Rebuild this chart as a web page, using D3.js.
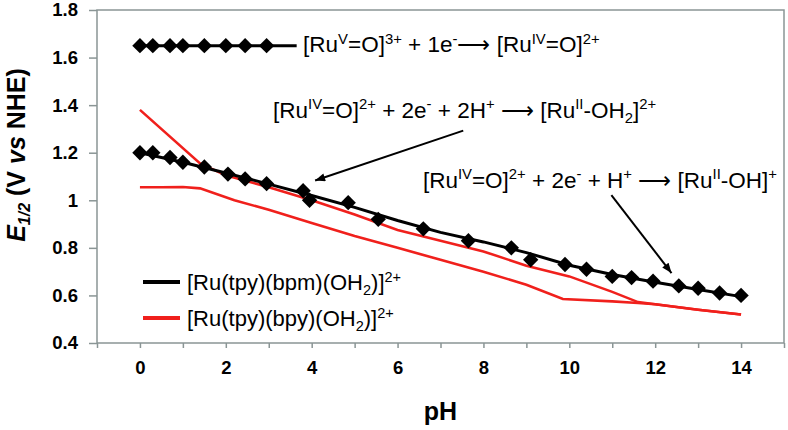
<!DOCTYPE html>
<html>
<head>
<meta charset="utf-8">
<script src="https://cdn.jsdelivr.net/npm/d3@7"></script>
<style>
    body { margin: 0; background: #fff; }
    text { font-family: "Liberation Sans", Arial, sans-serif; white-space: pre; }
</style>
</head>
<body>
<div id="chart"></div>
<script>
"use strict";

// Ru(V/IV) couple, pH independent
const highPH = [0, 0.3, 0.7, 1.0, 1.5, 2.0, 2.45, 2.95];
const highE = [1.65, 1.65, 1.65, 1.65, 1.65, 1.65, 1.65, 1.65];
const highLinePH = [0, 3.65];
const highLineE = [1.65, 1.65];

// [Ru(tpy)(bpm)(OH2)]2+ measured points
const bpmPH = [0, 0.3, 0.7, 1.0, 1.5, 2.05, 2.45, 2.95, 3.8, 3.95, 4.85, 5.55, 6.6, 7.65, 8.65, 9.1,
    9.9, 10.4, 11.0, 11.45, 11.95, 12.55, 13.0, 13.5, 14.0];
const bpmE = [1.20, 1.20, 1.18, 1.16, 1.14, 1.11, 1.09, 1.07, 1.04, 1.00, 0.99, 0.92, 0.88, 0.83, 0.80, 0.75,
    0.73, 0.71, 0.68, 0.675, 0.66, 0.64, 0.63, 0.61, 0.60];

// [Ru(tpy)(bpm)(OH2)]2+ line
const bpmLinePH = [0, 1, 2, 3, 4, 5, 6, 7, 8, 9, 10, 11, 12, 13, 14];
const bpmLineE = [1.20, 1.16, 1.115, 1.068, 1.02, 0.97, 0.915, 0.865, 0.825, 0.78, 0.727, 0.688, 0.655, 0.625, 0.595];

// [Ru(tpy)(bpy)(OH2)]2+ lines
const bpyUpPH = [0, 1.4, 2, 3, 4, 5, 6, 7, 8, 9, 10, 11, 11.6, 12, 13, 14];
const bpyUpE = [1.38, 1.155, 1.105, 1.055, 1.0, 0.94, 0.875, 0.83, 0.785, 0.725, 0.68, 0.615, 0.572, 0.563, 0.54, 0.52];
const bpyLowPH = [0, 0.5, 1.0, 1.4, 2.2, 3, 4, 5, 6, 7, 8, 9, 9.85, 11, 11.6, 12, 13, 14];
const bpyLowE = [1.055, 1.055, 1.056, 1.05, 1.0, 0.96, 0.905, 0.85, 0.80, 0.75, 0.70, 0.645, 0.585, 0.575, 0.568, 0.563, 0.54, 0.52];

const xTicks = d3.range(-1, 16);
const xTickLabels = [0, 2, 4, 6, 8, 10, 12, 14];
const yTicks = [0.4, 0.6, 0.8, 1.0, 1.2, 1.4, 1.6, 1.8];
const yTickLabels = ["0.4", "0.6", "0.8", "1", "1.2", "1.4", "1.6", "1.8"];

const red = "#f0201c";
const axisColor = "#8a9595";

const margin = {top: 10, right: 4, bottom: 87, left: 97};
const width = 788 - margin.left - margin.right;
const height = 430 - margin.top - margin.bottom;

const svg = d3.select("#chart").append("svg")
    .attr("width", 788)
    .attr("height", 430);

svg.append("defs").append("marker")
    .attr("id", "head")
    .attr("viewBox", "0 0 10 8")
    .attr("refX", 10)
    .attr("refY", 4)
    .attr("markerWidth", 11)
    .attr("markerHeight", 8)
    .attr("markerUnits", "userSpaceOnUse")
    .attr("orient", "auto")
    .append("path")
    .attr("d", "M0,0L10,4L0,8Z")
    .attr("fill", "#000");

const g = svg.append("g")
    .attr("transform", "translate(" + margin.left + "," + margin.top + ")");

const x = d3.scaleLinear().domain([-1, 15]).range([0, width]);
const y = d3.scaleLinear().domain([0.4, 1.8]).range([height, 0]);

// axes
const xAxis = g.append("g")
    .attr("transform", "translate(0," + height + ")")
    .call(d3.axisBottom(x).tickValues(xTicks).tickSize(5).tickPadding(13)
        .tickFormat((d) => xTickLabels.includes(d) ? d : ""));

const yAxis = g.append("g")
    .call(d3.axisLeft(y).tickValues(yTicks).tickSize(8).tickPadding(11)
        .tickFormat((d, i) => yTickLabels[i]));

[xAxis, yAxis].forEach((a) => {
    a.selectAll("path, line").attr("stroke", axisColor).attr("stroke-width", 1.5);
    a.selectAll("text")
        .attr("fill", "#000")
        .style("font-size", "18.5px")
        .style("font-weight", "bold");
    a.select(".domain").remove();
});

g.append("rect")
    .attr("width", width)
    .attr("height", height)
    .attr("fill", "none")
    .attr("stroke", axisColor)
    .attr("stroke-width", 1.5);

const line = d3.line()
    .x((d) => x(d[0]))
    .y((d) => y(d[1]));

const zip = (a, b) => a.map((v, i) => [v, b[i]]);

g.append("path")
    .datum(zip(bpyLowPH, bpyLowE))
    .attr("fill", "none").attr("stroke", red).attr("stroke-width", 2.6)
    .attr("d", line);

g.append("path")
    .datum(zip(bpyUpPH, bpyUpE))
    .attr("fill", "none").attr("stroke", red).attr("stroke-width", 2.6)
    .attr("d", line);

g.append("path")
    .datum(zip(bpmLinePH, bpmLineE))
    .attr("fill", "none").attr("stroke", "#000").attr("stroke-width", 3)
    .attr("d", line);

g.append("path")
    .datum(zip(highLinePH, highLineE))
    .attr("fill", "none").attr("stroke", "#000").attr("stroke-width", 3)
    .attr("d", line);

const diamond = d3.symbol(d3.symbolSquare, 118);

g.selectAll(".pt")
    .data(zip(highPH, highE).concat(zip(bpmPH, bpmE)))
    .join("path")
    .attr("class", "pt")
    .attr("d", diamond)
    .attr("transform", (d) => "translate(" + x(d[0]) + "," + y(d[1]) + ") rotate(45)")
    .attr("fill", "#000");

// text with super/subscripts
function rich(sel, parts, size) {
    let shift = 0;
    parts.forEach(([t, k]) => {
        const target = k === "sup" ? -0.38 * size : k === "sub" ? 0.22 * size : 0;
        sel.append("tspan")
            .attr("dy", target - shift)
            .style("font-size", (k ? size * 0.66 : size) + "px")
            .text(t);
        shift = target;
    });
    return sel;
}

const annotations = [
    {ph: 3.8, e: 1.623, parts: [["[Ru"], ["V", "sup"], ["=O]"], ["3+", "sup"], [" + 1e"], ["-", "sup"],
        ["\u27f6 [Ru"], ["IV", "sup"], ["=O]"], ["2+", "sup"]]},
    {ph: 3.1, e: 1.346, parts: [["[Ru"], ["IV", "sup"], ["=O]"], ["2+", "sup"], [" + 2e"], ["-", "sup"],
        [" + 2H"], ["+", "sup"], [" \u27f6 [Ru"], ["II", "sup"], ["-OH"], ["2", "sub"], ["]"], ["2+", "sup"]]},
    {ph: 6.59, e: 1.052, parts: [["[Ru"], ["IV", "sup"], ["=O]"], ["2+", "sup"], [" + 2e"], ["-", "sup"],
        [" + H"], ["+", "sup"], [" \u27f6 [Ru"], ["II", "sup"], ["-OH]"], ["+", "sup"]]},
];

annotations.forEach((a) => {
    rich(g.append("text").attr("x", x(a.ph)).attr("y", y(a.e)).attr("fill", "#000"), a.parts, 22.5);
});

const arrows = [
    {from: [7.53, 1.293], to: [4.08, 1.083]},
    {from: [10.98, 1.022], to: [12.38, 0.694]},
];

g.selectAll(".arrow")
    .data(arrows)
    .join("line")
    .attr("class", "arrow")
    .attr("x1", (d) => x(d.from[0]))
    .attr("y1", (d) => y(d.from[1]))
    .attr("x2", (d) => x(d.to[0]))
    .attr("y2", (d) => y(d.to[1]))
    .attr("stroke", "#000")
    .attr("stroke-width", 2)
    .attr("marker-end", "url(#head)");

// legend
const legend = [
    {color: "#000", parts: [["[Ru(tpy)(bpm)(OH"], ["2", "sub"], [")]"], ["2+", "sup"]]},
    {color: red, parts: [["[Ru(tpy)(bpy)(OH"], ["2", "sub"], [")]"], ["2+", "sup"]]},
];

const lg = g.append("g").attr("transform", "translate(46,272)");
legend.forEach((d, i) => {
    lg.append("line")
        .attr("x1", 0).attr("x2", 37)
        .attr("y1", i * 36).attr("y2", i * 36)
        .attr("stroke", d.color).attr("stroke-width", 4);
    rich(lg.append("text").attr("x", 44).attr("y", i * 36 + 8).attr("fill", "#000"), d.parts, 22);
});

// axis titles
g.append("text")
    .attr("x", width / 2)
    .attr("y", height + 77)
    .attr("text-anchor", "middle")
    .style("font-size", "25px")
    .style("font-weight", "bold")
    .text("pH");

const yt = svg.append("text")
    .attr("transform", "translate(25,155) rotate(-90)")
    .attr("text-anchor", "middle")
    .style("font-weight", "bold");
yt.append("tspan").style("font-size", "25px").style("font-style", "italic").text("E");
yt.append("tspan").style("font-size", "16px").style("font-style", "italic").attr("dy", 5).text("1/2");
yt.append("tspan").style("font-size", "25px").attr("dy", -5).text(" (V ");
yt.append("tspan").style("font-size", "25px").style("font-style", "italic").text("vs");
yt.append("tspan").style("font-size", "25px").text(" NHE)");
</script>
</body>
</html>
